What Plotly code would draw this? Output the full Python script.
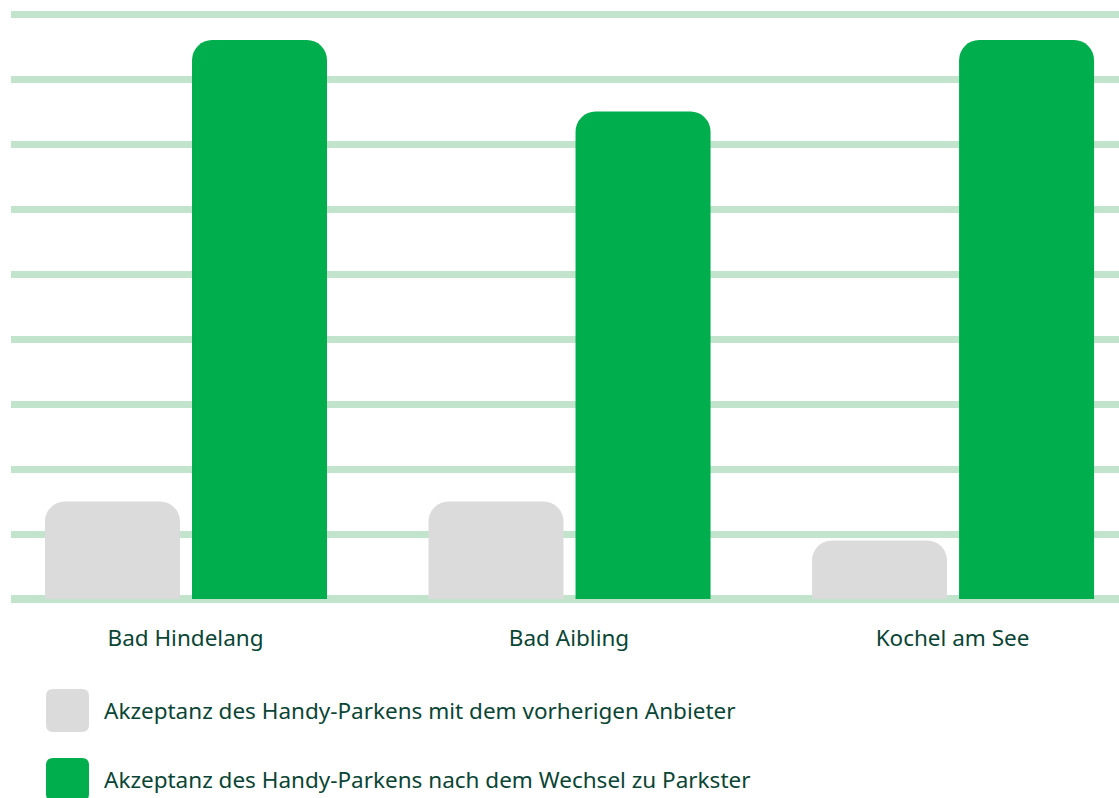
import plotly.graph_objects as go

categories = ["Bad Hindelang", "Bad Aibling", "Kochel am See"]
series_names = [
    "Akzeptanz des Handy-Parkens mit dem vorherigen Anbieter",
    "Akzeptanz des Handy-Parkens nach dem Wechsel zu Parkster",
]
before_values = [15, 15, 9]
after_values = [86, 75, 86]

GRAY = "#dbdbdb"
GREEN = "#00ae4d"
GRID = "#c2e4cc"
TEXT = "#0a4535"
FONT = "Noto Sans"
FS = 22.5

W, H = 1119, 798
ML, MR, MT, MB = 11, 0, 5, 199
PW = W - ML - MR
PH = H - MT - MB

fig = go.Figure()
fig.add_trace(go.Bar(x=categories, y=before_values, name=series_names[0],
                     marker=dict(color=GRAY, line=dict(width=0)),
                     width=0.352, offset=-0.3664, showlegend=False))
fig.add_trace(go.Bar(x=categories, y=after_values, name=series_names[1],
                     marker=dict(color=GREEN, line=dict(width=0)),
                     width=0.352, offset=0.017, showlegend=False))

# legend swatches (rounded squares) and labels
def rounded_rect(x0px, y0px, x1px, y1px, r):
    def px(x):
        return (x - ML) / PW
    def py(y):
        return (H - MB - y) / PH
    rx = r / PW
    ry = r / PH
    X0, X1 = px(x0px), px(x1px)
    Y0, Y1 = py(y1px), py(y0px)
    return (f"M {X0+rx},{Y1} L {X1-rx},{Y1} Q {X1},{Y1} {X1},{Y1-ry} "
            f"L {X1},{Y0+ry} Q {X1},{Y0} {X1-rx},{Y0} L {X0+rx},{Y0} "
            f"Q {X0},{Y0} {X0},{Y0+ry} L {X0},{Y1-ry} Q {X0},{Y1} {X0+rx},{Y1} Z")

shapes = []
annotations = []
legend_rows = [(689, GRAY, series_names[0]), (758, GREEN, series_names[1])]
for top, col, name in legend_rows:
    shapes.append(dict(type="path", xref="paper", yref="paper",
                       path=rounded_rect(46, top, 89, top + 43, 7),
                       fillcolor=col, line=dict(width=0), layer="above"))
    annotations.append(dict(xref="paper", yref="paper",
                            x=(102 - ML) / PW, y=(H - MB - (top + 21.5)) / PH,
                            xanchor="left", yanchor="middle", showarrow=False,
                            text=name, font=dict(family=FONT, size=FS, color=TEXT)))

fig.update_layout(
    width=W, height=H,
    margin=dict(l=ML, r=MR, t=MT, b=MB),
    paper_bgcolor="white", plot_bgcolor="white",
    barmode="overlay", barcornerradius=20,
    font=dict(family=FONT, size=FS, color=TEXT),
    shapes=shapes, annotations=annotations,
    showlegend=False,
    xaxis=dict(range=[-0.455, 2.434], showgrid=False, zeroline=False,
               showline=False, ticks="", tickfont=dict(family=FONT, size=FS, color=TEXT),
               ticklabelstandoff=23, fixedrange=True),
    yaxis=dict(range=[0, 91.4], dtick=10, tick0=0, showgrid=True, gridcolor=GRID,
               gridwidth=7, zeroline=True, zerolinecolor=GRID, zerolinewidth=8,
               showticklabels=False, ticks="", layer="above traces", fixedrange=True),
)

fig.write_html(
    "out.html",
    config={"displayModeBar": False},
    post_script="document.body.style.margin='0';document.body.style.overflow='hidden';",
)
